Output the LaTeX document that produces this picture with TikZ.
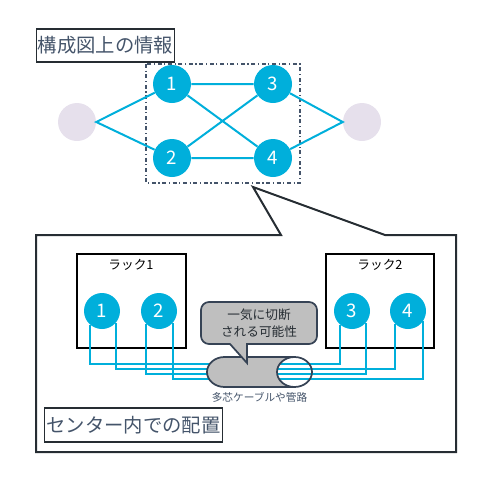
\documentclass[tikz,border=0pt]{standalone}
\usepackage{fontspec}
\setmainfont{Noto Sans CJK JP}
\definecolor{cyanbl}{HTML}{00AFDB}
\definecolor{lilac}{HTML}{E6E0EC}
\definecolor{slate}{HTML}{44546A}
\definecolor{ink}{HTML}{262D33}
\definecolor{cablegray}{HTML}{BFBFBF}
\begin{document}
\begin{tikzpicture}[x=0.75pt,y=-0.75pt,
  num/.style={circle,fill=cyanbl,text=white,minimum size=28.5pt,inner sep=0pt,font=\fontsize{14}{14}\selectfont},
  sub/.style={num,minimum size=27pt},
  ghost/.style={circle,fill=lilac,minimum size=28.5pt,inner sep=0pt},
  link/.style={draw=cyanbl,line width=1.5pt},
  wire/.style={draw=cyanbl,line width=1.4pt},
  tag/.style={draw=ink,line width=0.8pt,text=slate,inner sep=0pt,font=\fontsize{14.5}{14.5}\selectfont}]
\useasboundingbox (0,0) rectangle (493,479);
% logical view
\node[tag,minimum width=104pt,minimum height=24.75pt] (title) at (105.5,45.5) {構成図上の情報};
\draw[slate,line width=0.8pt,dash dot] (146,64) rectangle (300,183);
\node[ghost] (gl) at (77,122) {};
\node[ghost] (gr) at (362,122) {};
\node[num] (n1) at (172,84) {1};
\node[num] (n2) at (172,158) {2};
\node[num] (n3) at (273,84) {3};
\node[num] (n4) at (273,158) {4};
\draw[link] (n1) -- (gl.east) -- (n2);
\draw[link] (n3) -- (gr.west) -- (n4);
\draw[link] (n1) -- (n3) (n2) -- (n4) (n1) -- (n4) (n2) -- (n3);
% callout frame
\draw[ink,line width=1.5pt] (36,235) -- (281,235) -- (253,187) -- (385,235) -- (456,235) -- (456,452) -- (36,452) -- cycle;
% racks
\draw[black,line width=1.5pt] (77,254) rectangle (186,348) (326,254) rectangle (434,348);
\node[text=black,font=\fontsize{9.5}{9.5}\selectfont] (r1) at (131,265) {ラック1};
\node[text=black,font=\fontsize{9.5}{9.5}\selectfont] (r2) at (380,265) {ラック2};
\node[sub] (b1) at (102,311) {1};
\node[sub] (b2) at (159,311) {2};
\node[sub] (b3) at (352,311) {3};
\node[sub] (b4) at (408,311) {4};
\draw[wire] (b1.-130) |- (b3.-132 |- 0,364) -- (b3.-132);
\draw[wire] (b1.-40) |- (b4.-136 |- 0,369) -- (b4.-136);
\draw[wire] (b2.-136) |- (b3.-39 |- 0,374) -- (b3.-39);
\draw[wire] (b2.-39) |- (b4.-34 |- 0,379) -- (b4.-34);
% cable bundle
\fill[cablegray,even odd rule] (224.5,357) arc[start angle=270,end angle=90,x radius=17.5,y radius=15] -- (294.5,387) arc[start angle=90,end angle=-90,x radius=17.5,y radius=15] -- cycle (294.5,372) ellipse[x radius=17.5,y radius=15];
\draw[slate!80!black,line width=1.3pt] (224.5,357) arc[start angle=270,end angle=90,x radius=17.5,y radius=15] -- (294.5,387) (224.5,357) -- (294.5,357) (294.5,372) ellipse[x radius=17.5,y radius=15];
\node[text=slate,font=\fontsize{8}{8}\selectfont] (clbl) at (259.5,397) {多芯ケーブルや管路};
% warning bubble
\filldraw[fill=cablegray,draw=slate!80!black,line width=1.3pt] (247,363) -- (230,344) [rounded corners=6pt] -- (201,344) -- (201,302) -- (317,302) -- (317,344) [sharp corners] -- (247,344) -- cycle;
\node[align=center,text=ink,font=\fontsize{9.5}{12.5}\selectfont] (warn) at (259,323) {一気に切断\\される可能性};
\node[tag,minimum width=134pt,minimum height=25.5pt] (site) at (133.5,425) {センター内での配置};
\end{tikzpicture}
\end{document}
